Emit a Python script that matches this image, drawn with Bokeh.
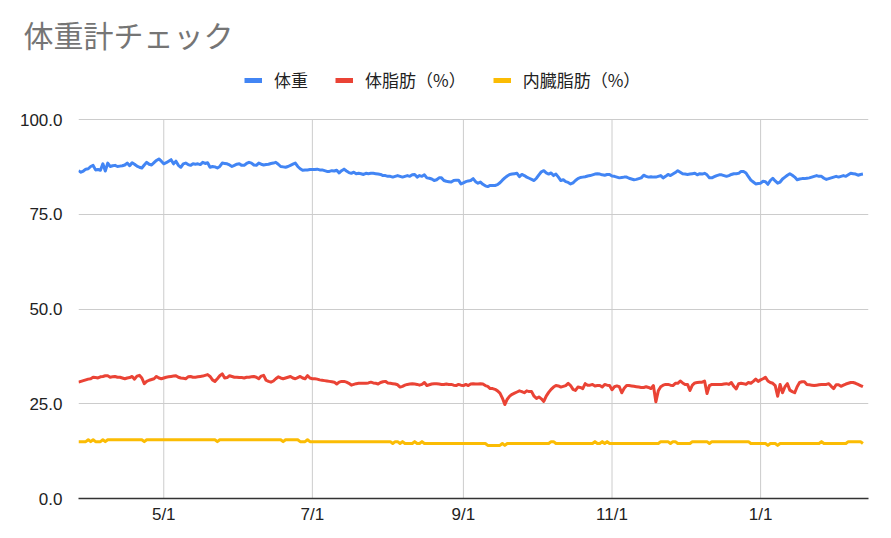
import pandas as pd
from bokeh.plotting import figure
from bokeh.models import Range1d, FixedTicker, Legend, LegendItem, ColumnDataSource
from bokeh.embed import file_html
from bokeh.resources import INLINE

TITLE = "体重計チェック"
START_DATE = "2020-03-27"
X_END = "2021-02-14 07:00"

WEIGHT = [
    86.5, 86.1, 86.4, 86.9, 87.0, 87.6, 87.9, 86.7, 86.8, 86.6,
    88.3, 86.4, 88.5, 87.6, 87.8, 87.9, 87.6, 87.7, 87.8, 88.0,
    88.5, 87.8, 88.6, 88.2, 87.7, 87.4, 87.2, 88.0, 88.7, 88.2,
    88.0, 88.6, 89.2, 89.6, 89.0, 88.3, 88.6, 89.0, 89.4, 88.3,
    89.0, 87.9, 87.4, 88.3, 88.5, 88.1, 87.9, 88.3, 88.2, 88.3,
    88.1, 88.7, 88.4, 88.6, 87.4, 87.6, 87.5, 87.2, 87.6, 88.5,
    88.4, 88.3, 88.0, 87.6, 87.9, 88.2, 88.3, 87.9, 87.9, 88.4,
    88.7, 88.5, 88.0, 87.9, 88.5, 88.2, 88.0, 88.1, 88.2, 88.4,
    88.5, 88.7, 88.2, 87.6, 87.5, 87.4, 87.6, 87.9, 88.2, 88.5,
    87.6, 87.0, 86.6, 86.7, 86.7, 86.8, 86.8, 86.8, 86.9, 86.7,
    86.7, 86.5, 86.3, 86.3, 86.5, 86.4, 86.6, 85.9, 86.5, 86.9,
    86.4, 86.0, 85.8, 86.1, 85.7, 85.8, 85.7, 85.5, 85.8, 85.7,
    85.8, 85.8, 85.7, 85.6, 85.5, 85.2, 85.2, 85.0, 85.0, 84.8,
    85.0, 85.2, 85.0, 84.8, 85.0, 85.2, 85.0, 85.4, 85.5, 84.8,
    85.2, 85.0, 85.4, 84.6, 84.5, 84.3, 83.9, 84.1, 84.6, 84.6,
    83.9, 83.7, 83.6, 83.5, 83.9, 84.0, 84.0, 83.0, 83.3, 83.6,
    83.8, 83.9, 84.4, 83.6, 83.2, 83.5, 82.9, 82.5, 82.3, 82.6,
    82.6, 82.6, 82.8, 83.3, 84.0, 84.6, 85.1, 85.5, 85.6, 85.7,
    85.8, 84.9, 85.5, 85.2, 84.8, 84.5, 84.2, 83.9, 84.5, 85.4,
    86.2, 86.5, 85.9, 85.6, 85.9, 85.2, 85.6, 84.8, 83.9, 84.1,
    83.6, 83.4, 83.0, 83.3, 83.9, 84.4, 84.7, 84.8, 84.9, 85.1,
    85.2, 85.4, 85.6, 85.7, 85.6, 85.4, 85.3, 85.5, 85.5, 85.1,
    85.0, 84.8, 84.6, 84.7, 84.8, 84.8, 84.5, 84.3, 84.1, 84.2,
    84.4, 84.6, 85.3, 85.0, 84.8, 84.9, 84.8, 84.8, 85.0, 85.2,
    84.6, 85.0, 85.5, 85.2, 85.6, 86.0, 86.5, 86.1, 85.7, 85.6,
    85.5, 85.6, 85.7, 85.8, 85.4, 85.7, 85.6, 85.8, 85.4, 84.6,
    84.6, 84.9, 85.2, 85.4, 85.4, 85.2, 85.0, 85.2, 85.5, 85.7,
    85.7, 85.8, 86.3, 86.3, 85.9, 84.9, 84.0, 83.5, 83.0, 83.1,
    83.2, 83.7, 83.6, 82.9, 83.9, 84.5, 83.8, 83.2, 83.5, 84.3,
    84.8, 85.3, 85.7, 85.3, 84.8, 84.1, 84.3, 84.4, 84.4, 84.5,
    84.6, 84.8, 85.0, 85.2, 85.0, 85.0, 84.5, 84.2, 84.4, 84.6,
    84.8, 85.0, 84.8, 85.0, 85.2, 85.0, 85.4, 85.8, 85.7, 85.6,
    85.3, 85.5, 85.6,
]

BODY_FAT = [
    30.7, 30.9, 31.1, 31.3, 31.5, 31.6, 32.0, 31.9, 31.8, 32.1,
    32.2, 32.4, 32.4, 32.0, 32.1, 32.2, 32.0, 32.0, 31.8, 31.6,
    31.8, 31.9, 32.2, 31.5, 32.3, 32.5, 31.8, 30.3, 30.9, 31.2,
    31.4, 31.6, 32.2, 31.8, 31.6, 31.8, 32.0, 32.1, 32.2, 32.3,
    32.4, 32.0, 31.8, 31.7, 31.6, 32.1, 32.2, 32.0, 32.0, 32.1,
    32.2, 32.3, 32.5, 32.7, 32.2, 31.3, 30.9, 31.6, 32.4, 32.9,
    31.8, 31.9, 32.4, 32.2, 32.0, 32.0, 31.9, 31.9, 31.8, 32.0,
    32.0, 32.1, 32.2, 32.0, 31.6, 32.3, 32.5, 31.2, 30.9, 30.7,
    31.0, 31.6, 32.1, 31.8, 31.6, 31.8, 32.0, 32.2, 31.8, 31.6,
    31.9, 32.2, 31.8, 31.6, 32.4, 31.8, 31.6, 31.6, 31.5, 31.3,
    31.2, 31.1, 31.0, 30.9, 30.8, 30.7, 30.2, 30.7, 30.9, 30.9,
    30.7, 30.4, 29.9, 30.1, 30.3, 30.4, 30.4, 30.4, 30.4, 30.5,
    30.7, 30.5, 30.4, 30.2, 30.6, 30.8, 30.9, 30.5, 30.4, 30.3,
    30.2, 30.0, 29.4, 29.6, 29.9, 30.1, 30.2, 30.3, 30.2, 30.1,
    29.9, 30.1, 30.6, 29.8, 30.0, 30.2, 30.3, 30.3, 30.2, 30.1,
    30.1, 30.2, 30.1, 30.1, 29.9, 29.8, 30.1, 29.9, 29.8, 30.1,
    29.8, 30.2, 30.3, 30.2, 30.2, 30.3, 30.2, 29.8, 29.6, 29.0,
    29.0, 28.8, 28.4, 27.8, 26.5, 24.8, 26.2, 27.0, 27.5, 27.8,
    28.1, 28.4, 28.2, 27.9, 28.4, 28.2, 28.2, 27.0, 26.4, 26.8,
    26.3, 25.6, 27.0, 28.0, 28.8, 29.4, 29.8, 29.7, 29.4, 29.6,
    29.8, 30.4, 29.8, 28.8, 28.5, 29.4, 29.3, 29.0, 30.3, 29.9,
    29.9, 30.1, 29.7, 29.8, 29.8, 29.4, 30.1, 29.9, 29.8, 28.7,
    29.5, 29.7, 29.5, 27.9, 29.1, 29.8, 29.8, 29.7, 29.6, 29.5,
    29.4, 29.3, 29.3, 29.5, 29.3, 29.0, 29.8, 25.5, 28.4, 29.5,
    29.9, 30.1, 30.1, 29.9, 29.8, 30.4, 30.4, 31.0, 30.5, 30.1,
    30.1, 28.5, 29.9, 30.5, 30.6, 30.7, 30.7, 31.0, 27.7, 29.8,
    30.1, 30.1, 30.1, 30.1, 30.1, 30.2, 30.3, 30.1, 30.6, 29.6,
    28.9, 30.3, 30.4, 30.3, 30.1, 30.6, 30.4, 30.9, 31.5, 30.9,
    31.3, 31.6, 32.0, 31.0, 30.6, 30.4, 29.8, 27.0, 30.1, 27.9,
    29.5, 30.3, 28.6, 28.2, 27.9, 29.5, 30.6, 30.8, 30.8, 30.1,
    30.0, 29.9, 29.8, 29.9, 30.0, 30.1, 30.1, 30.1, 30.3, 29.6,
    29.0, 30.0, 30.0, 29.6, 29.9, 30.2, 30.4, 30.6, 30.6, 30.4,
    30.1, 29.8, 29.5,
]

VISCERAL_FAT = [
    15.0, 15.0, 15.0, 15.0, 15.5, 15.0, 15.5, 15.0, 15.0, 15.0,
    15.5, 15.0, 15.5, 15.5, 15.5, 15.5, 15.5, 15.5, 15.5, 15.5,
    15.5, 15.5, 15.5, 15.5, 15.5, 15.5, 15.5, 15.0, 15.5, 15.5,
    15.5, 15.5, 15.5, 15.5, 15.5, 15.5, 15.5, 15.5, 15.5, 15.5,
    15.5, 15.5, 15.5, 15.5, 15.5, 15.5, 15.5, 15.5, 15.5, 15.5,
    15.5, 15.5, 15.5, 15.5, 15.5, 15.5, 15.5, 15.0, 15.5, 15.5,
    15.5, 15.5, 15.5, 15.5, 15.5, 15.5, 15.5, 15.5, 15.5, 15.5,
    15.5, 15.5, 15.5, 15.5, 15.5, 15.5, 15.5, 15.5, 15.5, 15.5,
    15.5, 15.5, 15.5, 15.5, 15.0, 15.5, 15.5, 15.5, 15.5, 15.5,
    15.5, 15.0, 15.0, 15.0, 15.5, 15.0, 15.0, 15.0, 15.0, 15.0,
    15.0, 15.0, 15.0, 15.0, 15.0, 15.0, 15.0, 15.0, 15.0, 15.0,
    15.0, 15.0, 15.0, 15.0, 15.0, 15.0, 15.0, 15.0, 15.0, 15.0,
    15.0, 15.0, 15.0, 15.0, 15.0, 15.0, 15.0, 15.0, 15.0, 14.5,
    15.0, 15.0, 14.5, 15.0, 14.5, 14.5, 14.5, 14.5, 15.0, 14.5,
    14.5, 15.0, 14.5, 14.5, 14.5, 14.5, 14.5, 14.5, 14.5, 14.5,
    14.5, 14.5, 14.5, 14.5, 14.5, 14.5, 14.5, 14.5, 14.5, 14.5,
    14.5, 14.5, 14.5, 14.5, 14.5, 14.5, 14.5, 14.5, 14.0, 14.0,
    14.0, 14.0, 14.0, 14.0, 14.5, 14.0, 14.5, 14.5, 14.5, 14.5,
    14.5, 14.5, 14.5, 14.5, 14.5, 14.5, 14.5, 14.5, 14.5, 14.5,
    14.5, 14.5, 14.5, 14.5, 15.0, 15.0, 14.5, 14.5, 14.5, 14.5,
    14.5, 14.5, 14.5, 14.5, 14.5, 14.5, 14.5, 14.5, 14.5, 14.5,
    14.5, 14.5, 15.0, 14.5, 14.5, 15.0, 14.5, 15.0, 14.5, 14.5,
    14.5, 14.5, 14.5, 14.5, 14.5, 14.5, 14.5, 14.5, 14.5, 14.5,
    14.5, 14.5, 14.5, 14.5, 14.5, 14.5, 14.5, 14.5, 14.5, 15.0,
    15.0, 15.0, 15.0, 14.5, 15.0, 15.0, 14.5, 14.5, 14.5, 14.5,
    14.5, 14.5, 15.0, 15.0, 15.0, 15.0, 15.0, 15.0, 15.0, 14.5,
    15.0, 15.0, 15.0, 15.0, 15.0, 15.0, 15.0, 15.0, 15.0, 15.0,
    15.0, 15.0, 15.0, 15.0, 15.0, 15.0, 14.5, 14.5, 14.5, 14.5,
    14.5, 14.5, 14.5, 14.0, 14.5, 14.5, 14.5, 14.0, 14.5, 14.5,
    14.5, 14.5, 14.5, 14.5, 14.5, 14.5, 14.5, 14.5, 14.5, 14.5,
    14.5, 14.5, 14.5, 14.5, 14.5, 15.0, 14.5, 14.5, 14.5, 14.5,
    14.5, 14.5, 14.5, 14.5, 14.5, 14.5, 15.0, 15.0, 15.0, 15.0,
    15.0, 15.0, 14.5,
]

SERIES_NAMES = ["体重", "体脂肪（%）", "内臓脂肪（%）"]
SERIES_COLORS = ["#4285F4", "#EA4335", "#FBBC04"]

X_TICK_DATES = ["2020-05-01", "2020-07-01", "2020-09-01", "2020-11-01", "2021-01-01"]
X_TICK_LABELS = ["5/1", "7/1", "9/1", "11/1", "1/1"]
Y_TICKS = [0, 25, 50, 75, 100]
Y_TICK_LABELS = ["0.0", "25.0", "50.0", "75.0", "100.0"]

assert len(WEIGHT) == len(BODY_FAT) == len(VISCERAL_FAT), (len(WEIGHT), len(BODY_FAT), len(VISCERAL_FAT))


def to_ms(d):
    return int((pd.Timestamp(d) - pd.Timestamp("1970-01-01")) // pd.Timedelta(milliseconds=1))


# layout (pixels): the plot frame is extended upward so the legend sits inside it
CANVAS_W, CANVAS_H = 875, 530
LEFT, RIGHT = 78, 868
AXIS_TOP_PX, AXIS_BOTTOM_PX, FRAME_TOP_PX = 119, 498, 56
y_max = Y_TICKS[0] + (Y_TICKS[-1] - Y_TICKS[0]) * (AXIS_BOTTOM_PX - FRAME_TOP_PX) / (AXIS_BOTTOM_PX - AXIS_TOP_PX)

dates = pd.date_range(START_DATE, periods=len(WEIGHT), freq="D")
source = ColumnDataSource(dict(date=dates, weight=WEIGHT, fat=BODY_FAT, visceral=VISCERAL_FAT))

p = figure(
    width=CANVAS_W, height=CANVAS_H,
    x_axis_type="datetime",
    x_range=Range1d(to_ms(START_DATE), to_ms(X_END)),
    y_range=Range1d(Y_TICKS[0], y_max),
    output_backend="svg",
    toolbar_location=None,
    min_border_left=LEFT, min_border_right=CANVAS_W - RIGHT,
    min_border_top=FRAME_TOP_PX, min_border_bottom=CANVAS_H - AXIS_BOTTOM_PX,
    title=TITLE,
)
p.outline_line_color = None
p.background_fill_color = "white"

p.title.align = "left"
p.title.offset = -55
p.title.standoff = 2
p.title.text_font = "Noto Sans CJK JP"
p.title.text_font_size = "30px"
p.title.text_color = "#757575"
p.title.text_font_style = "normal"

# vertical grid lines only across the value axis (0 .. 100)
tick_dt = pd.to_datetime(X_TICK_DATES)
p.segment(x0=tick_dt, y0=[Y_TICKS[0]] * len(tick_dt), x1=tick_dt, y1=[Y_TICKS[-1]] * len(tick_dt),
          line_color="#cccccc", line_width=1)
p.xgrid.visible = False
p.ygrid.ticker = FixedTicker(ticks=Y_TICKS)
p.ygrid.grid_line_color = "#cccccc"

cols = ["weight", "fat", "visceral"]
for col, color in zip(cols, SERIES_COLORS):
    p.line("date", col, source=source, line_color=color, line_width=3, line_join="round")

# legend swatches: hidden copies of the series drawn as thick bars in the legend
items = []
for name, col, color in zip(SERIES_NAMES, cols, SERIES_COLORS):
    r = p.line("date", col, source=source, line_color=color, line_width=5, line_cap="butt", visible=False)
    items.append(LegendItem(label=name, renderers=[r]))

legend = Legend(
    items=items, orientation="horizontal", location=(166, 406),
    padding=0, margin=0, spacing=27, label_standoff=12,
    glyph_width=18, glyph_height=20, label_height=20,
    label_text_font="Noto Sans CJK JP", label_text_font_size="17px",
    label_text_color="#222222", border_line_color=None,
    background_fill_alpha=0, inactive_fill_alpha=0,
)
p.add_layout(legend)

# axes
tick_ms = [to_ms(d) for d in X_TICK_DATES]
p.xaxis.ticker = FixedTicker(ticks=tick_ms)
p.xaxis.major_label_overrides = {t: l for t, l in zip(tick_ms, X_TICK_LABELS)}
p.xaxis.axis_line_color = "#333333"
p.xaxis.axis_line_width = 1.5
p.xaxis.major_tick_line_color = None
p.xaxis.minor_tick_line_color = None
p.xaxis.major_label_standoff = 0
p.xaxis.major_label_text_font = "Liberation Sans"
p.xaxis.major_label_text_font_size = "17px"
p.xaxis.major_label_text_color = "#222222"

p.yaxis.ticker = FixedTicker(ticks=Y_TICKS)
p.yaxis.major_label_overrides = {t: l for t, l in zip(Y_TICKS, Y_TICK_LABELS)}
p.yaxis.axis_line_color = None
p.yaxis.major_tick_line_color = None
p.yaxis.minor_tick_line_color = None
p.yaxis.major_label_standoff = 10
p.yaxis.major_label_text_font = "Liberation Sans"
p.yaxis.major_label_text_font_size = "17px"
p.yaxis.major_label_text_color = "#222222"

open("out.html", "w").write(file_html(p, INLINE))
